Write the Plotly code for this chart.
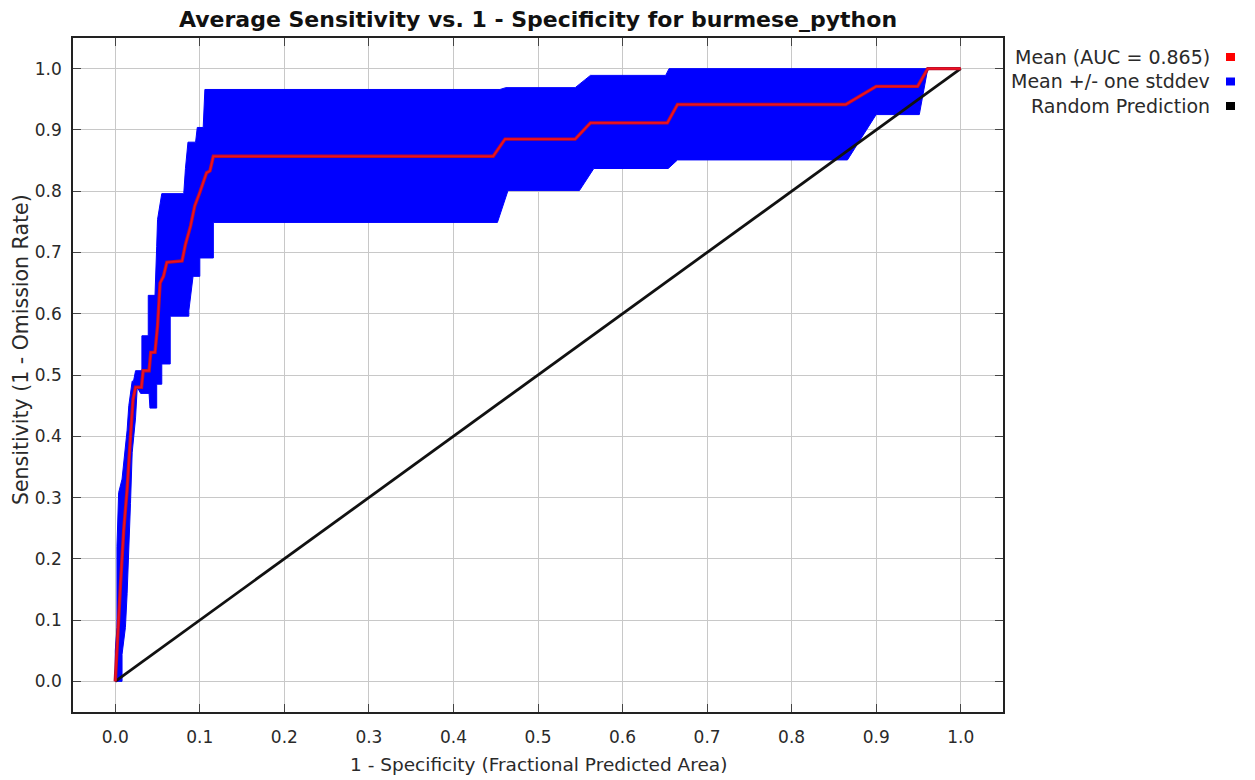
import plotly.graph_objects as go

# Mean ROC curve (1 - specificity, sensitivity)
mean_x = [0.0, 0.003, 0.006, 0.010, 0.014, 0.018, 0.021, 0.024, 0.031, 0.033, 0.040, 0.042, 0.047,
          0.050, 0.053, 0.057, 0.061, 0.079, 0.083, 0.089, 0.094, 0.100, 0.104, 0.108, 0.112, 0.116,
          0.447, 0.461, 0.544, 0.562, 0.653, 0.665, 0.864, 0.880, 0.900, 0.949, 0.961, 1.0]
mean_y = [0.0, 0.088, 0.154, 0.247, 0.313, 0.400, 0.460, 0.480, 0.480, 0.507, 0.507, 0.537, 0.537,
          0.580, 0.650, 0.661, 0.684, 0.686, 0.713, 0.743, 0.776, 0.798, 0.815, 0.830, 0.833, 0.857,
          0.857, 0.885, 0.885, 0.9115, 0.9115, 0.9415, 0.9415, 0.955, 0.971, 0.971, 1.0, 1.0]

# Mean + one stddev
upper_x = [0.0, 0.0, 0.002, 0.002, 0.004, 0.008, 0.014, 0.016, 0.020, 0.0216, 0.024, 0.0315, 0.0315,
           0.039, 0.039, 0.047, 0.049, 0.050, 0.055, 0.081, 0.083, 0.086, 0.095, 0.097, 0.104, 0.106,
           0.455, 0.462, 0.544, 0.562, 0.651, 0.655, 1.0]
upper_y = [0.0, 0.05, 0.088, 0.22, 0.308, 0.33, 0.41, 0.45, 0.49, 0.49, 0.507, 0.507, 0.564,
           0.564, 0.63, 0.63, 0.71, 0.754, 0.796, 0.796, 0.837, 0.88, 0.88, 0.904, 0.904, 0.966,
           0.966, 0.969, 0.969, 0.989, 0.989, 1.0, 1.0]

# Mean - one stddev
lower_x = [0.0, 0.008, 0.008, 0.012, 0.014, 0.016, 0.018, 0.020, 0.024, 0.026, 0.030, 0.040, 0.041,
           0.049, 0.049, 0.055, 0.055, 0.065, 0.065, 0.087, 0.087, 0.092, 0.100, 0.100, 0.116, 0.116,
           0.452, 0.4645, 0.549, 0.566, 0.654, 0.665, 0.866, 0.900, 0.951, 0.961, 1.0]
lower_y = [0.0, 0.0, 0.044, 0.088, 0.143, 0.203, 0.290, 0.373, 0.430, 0.480, 0.470, 0.470, 0.446,
           0.446, 0.485, 0.485, 0.518, 0.518, 0.596, 0.596, 0.605, 0.661, 0.661, 0.691, 0.691, 0.749,
           0.749, 0.801, 0.801, 0.837, 0.837, 0.851, 0.851, 0.925, 0.925, 1.0, 1.0]

random_x = [0.0, 1.0]
random_y = [0.0, 1.0]

tick_vals = [round(i * 0.1, 1) for i in range(11)]
tick_text = [f"{v:.1f}" for v in tick_vals]

legend_labels = ["Mean (AUC = 0.865)", "Mean +/- one stddev", "Random Prediction"]
legend_colors = ["#ff0000", "#0000ff", "#000000"]

FONT = "DejaVu Sans, Verdana, sans-serif"
TXT = "#2a2a2a"

# page is rendered with an 8px body margin; work in page pixels and convert
OFF = 8
W, H = 1255 - OFF, 780 - OFF
PL, PR, PT, PB = 73, 1003, 38, 712          # plot box in page pixels
L, R, T, B = PL - OFF, W - (PR - OFF), PT - OFF, H - (PB - OFF)
pw, ph = W - L - R, H - T - B


def px_to_paper(xp, yp):
    return (xp - PL) / pw, (PB - yp) / ph


fig = go.Figure()

band_x = upper_x + lower_x[::-1]
band_y = upper_y + lower_y[::-1]
fig.add_trace(go.Scatter(x=band_x, y=band_y, mode="lines", fill="toself",
                         fillcolor="#0000ff", line=dict(color="#0000ff", width=1),
                         name=legend_labels[1], hoverinfo="skip"))
fig.add_trace(go.Scatter(x=random_x, y=random_y, mode="lines",
                         line=dict(color="#111111", width=2.8), name=legend_labels[2]))
fig.add_trace(go.Scatter(x=mean_x, y=mean_y, mode="lines",
                         line=dict(color="#b5102e", width=3.4), hoverinfo="skip", showlegend=False))
fig.add_trace(go.Scatter(x=mean_x, y=mean_y, mode="lines",
                         line=dict(color="#f01020", width=1.7), name=legend_labels[0]))

axis_common = dict(
    range=[-0.05, 1.05], tickvals=tick_vals, ticktext=tick_text,
    showgrid=True, gridcolor="#c8c8c8", gridwidth=1.2,
    zeroline=False, showline=True, linecolor="#222222", linewidth=1.5,
    mirror="ticks", ticks="inside", ticklen=8, tickcolor="#444444", tickwidth=1,
    tickfont=dict(family=FONT, size=17, color=TXT),
)

fig.update_xaxes(**axis_common, ticklabelstandoff=9)
fig.update_yaxes(**axis_common, ticklabelstandoff=6)

annotations = []
shapes = []
legend_rows_px = [57, 81.5, 106]
for lab, col, ypx in zip(legend_labels, legend_colors, legend_rows_px):
    ax, ay = px_to_paper(1212, ypx)
    annotations.append(dict(text=lab, xref="paper", yref="paper", x=ax, y=ay,
                            xanchor="right", yanchor="middle", showarrow=False,
                            font=dict(family=FONT, size=19, color=TXT)))
    x0, y0 = px_to_paper(1226, ypx + 4)
    x1, y1 = px_to_paper(1235, ypx - 4)
    shapes.append(dict(type="rect", xref="paper", yref="paper", x0=x0, x1=x1, y0=y0, y1=y1,
                       fillcolor=col, line=dict(width=0)))

xt_x, xt_y = px_to_paper(538, 765)
annotations.append(dict(text="1 - Specificity (Fractional Predicted Area)", xref="paper", yref="paper",
                        x=xt_x, y=xt_y, xanchor="center", yanchor="middle", showarrow=False,
                        font=dict(family=FONT, size=18.5, color=TXT)))
yt_x, yt_y = px_to_paper(21, 350)
annotations.append(dict(text="Sensitivity (1 - Omission Rate)", xref="paper", yref="paper",
                        x=yt_x, y=yt_y, xanchor="center", yanchor="middle", textangle=-90,
                        showarrow=False, font=dict(family=FONT, size=20.5, color=TXT)))

fig.update_layout(
    width=W, height=H,
    margin=dict(l=L, r=R, t=T, b=B),
    paper_bgcolor="white", plot_bgcolor="white",
    showlegend=False,
    title=dict(text="<b>Average Sensitivity vs. 1 - Specificity for burmese_python</b>",
               x=(538 - OFF) / W, xanchor="center", y=1 - (19 - OFF) / H, yanchor="middle",
               font=dict(family=FONT, size=22, color="#111111")),
    annotations=annotations, shapes=shapes,
)

fig.write_html("out.html")
